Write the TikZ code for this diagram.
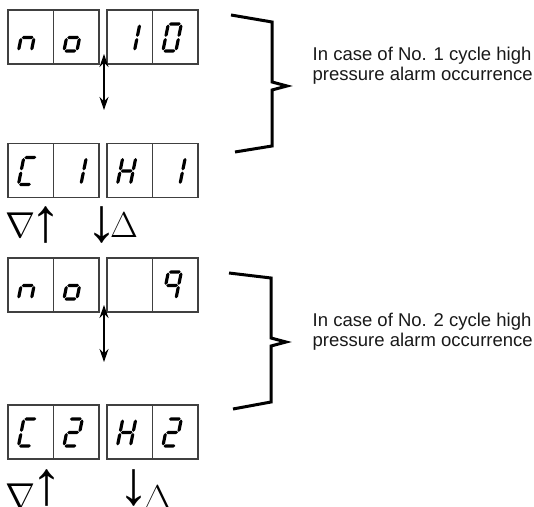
\documentclass[tikz,border=0pt]{standalone}
\usepackage{fix-cm}
\usepackage[no-math]{fontspec}
\newfontfamily\notefont{Liberation Sans}
\newfontfamily\keyfont{Liberation Serif}
\usetikzlibrary{arrows.meta}

\newcommand\lcdh[1]{\fill (0.6,#1) -- (2.2,#1+1.6) -- (10.8,#1+1.6) -- (12.4,#1)
  -- (10.8,#1-1.6) -- (2.2,#1-1.6) -- cycle;}
\newcommand\lcdv[3]{\fill (#1,#2+0.6) -- (#1+1.6,#2+2.2) -- (#1+1.6,#3-2.2) -- (#1,#3-0.6)
  -- (#1-1.6,#3-2.2) -- (#1-1.6,#2+2.2) -- cycle;}
\newcommand\lcda{\lcdh{27}}
\newcommand\lcdb{\lcdv{13}{13.5}{27}}
\newcommand\lcdc{\lcdv{13}{0}{13.5}}
\newcommand\lcdd{\lcdh{0}}
\newcommand\lcde{\lcdv{0}{0}{13.5}}
\newcommand\lcdf{\lcdv{0}{13.5}{27}}
\newcommand\lcdg{\lcdh{13.5}}
\newcommand\lcd[3][0]{\begin{scope}[shift={(#2.south west)},shift={(11+#1,13.6)},xslant=0.2]
  \foreach \s in {#3}{\csname lcd\s\endcsname}
\end{scope}}

\begin{document}
\begin{tikzpicture}[x=1pt,y=1pt,line join=miter,
  cell/.style={draw=black!75,line width=1.1pt,minimum width=45.5pt,
               minimum height=54pt,inner sep=0pt},
  updown/.style={{Stealth[length=13pt,width=9pt]}-{Stealth[length=13pt,width=9pt]},
                 line width=1.1pt},
  brace/.style={line width=3pt},
  note/.style={font=\notefont\fontsize{18.5}{20}\selectfont,text=black!90,
               align=left,inner sep=0pt,anchor=base west},
  sym/.style={font=\fontsize{36}{36}\selectfont,inner sep=0pt,anchor=base},
  key/.style={font=\keyfont\fontsize{62}{62}\selectfont,inner sep=0pt,anchor=base}]
\useasboundingbox (0,0) rectangle (534,506);
\foreach \r/\y in {1/469,2/335.5,3/221,4/74}
  \foreach \c/\x in {1/30.75,2/76.25,3/129.75,4/175.25}
    \node[cell] (d\r\c) at (\x,\y) {};
\lcd{d11}{c,e,g}
\lcd{d12}{c,d,e,g}
\lcd[4]{d13}{b,c}
\lcd{d14}{a,b,c,d,e,f}
\lcd{d21}{a,d,e,f}
\lcd[4]{d22}{b,c}
\lcd{d23}{b,c,e,f,g}
\lcd[4]{d24}{b,c}
\lcd{d31}{c,e,g}
\lcd{d32}{c,d,e,g}
\lcd{d34}{a,b,c,f,g}
\lcd{d41}{a,d,e,f}
\lcd{d42}{a,b,g,e,d}
\lcd{d43}{b,c,e,f,g}
\lcd{d44}{a,b,g,e,d}
\coordinate (t1) at (104,452);
\coordinate (b1) at (104,396);
\coordinate (t2) at (104,201);
\coordinate (b2) at (104,144);
\draw[updown] (t1) -- (b1);
\draw[updown] (t2) -- (b2);
\draw[brace] (231,491) -- (272,484) -- (272,424) -- (287,420) -- (272,416)
  -- (272,360) -- (235,354);
\draw[brace] (229,233) -- (271,228) -- (271,168) -- (286,164) -- (271,160)
  -- (271,104) -- (233,97);
\node[note] (case1) at (312.5,425.3) {In case of No. 1 cycle high\\pressure alarm occurrence};
\node[note] (case2) at (312.5,160) {In case of No. 2 cycle high\\pressure alarm occurrence};
\node[sym] (nab1) at (20.5,268) {$\nabla$};
\node[key] (up1) at (46,264.6) {↑};
\node[key] (dn1) at (102,264.6) {↓};
\node[sym] (del1) at (124,268) {$\Delta$};
\node[sym] (nab2) at (20.5,-2) {$\nabla$};
\node[key] (up2) at (47,1.6) {↑};
\node[key] (dn2) at (134,1.6) {↓};
\node[sym] (del2) at (157.5,-4) {$\Delta$};
\end{tikzpicture}
\end{document}
